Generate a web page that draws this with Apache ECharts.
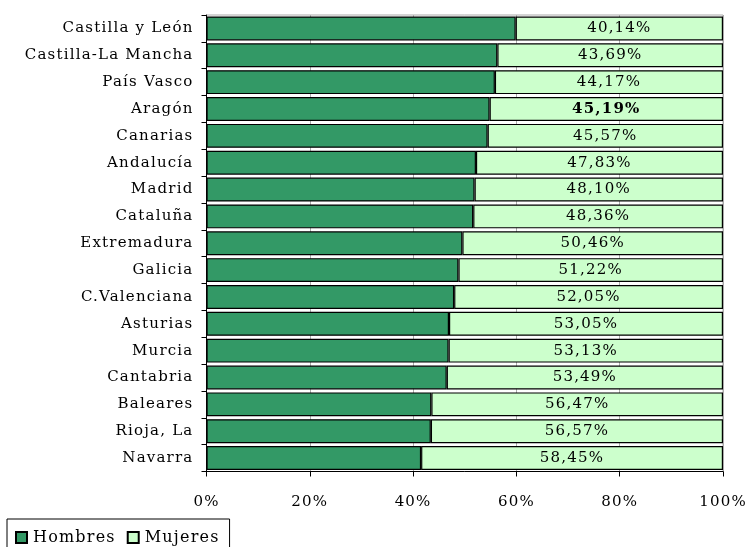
<!DOCTYPE html>
<html>
<head>
<meta charset="utf-8">
<script src="https://cdn.jsdelivr.net/npm/echarts@6/dist/echarts.min.js"></script>
<style>
html,body{margin:0;padding:0;background:#fff;}
#chart{width:750px;height:547px;}
</style>
</head>
<body>
<div id="chart"></div>
<script>
var categories = ["Castilla y León","Castilla-La Mancha","País Vasco","Aragón","Canarias","Andalucía","Madrid","Cataluña","Extremadura","Galicia","C.Valenciana","Asturias","Murcia","Cantabria","Baleares","Rioja, La","Navarra"];
var hombres = [59.86,56.31,55.83,54.81,54.43,52.17,51.90,51.64,49.54,48.78,47.95,46.95,46.87,46.51,43.53,43.43,41.55];
var mujeres = [40.14,43.69,44.17,45.19,45.57,47.83,48.10,48.36,50.46,51.22,52.05,53.05,53.13,53.49,56.47,56.57,58.45];
var boldCategory = "Aragón";

// slight letter spacing like the original's typeface
(function(){
  var P = CanvasRenderingContext2D.prototype;
  var ft = P.fillText, mt = P.measureText;
  P.fillText = function(){ try{ this.letterSpacing = '1.2px'; }catch(e){} return ft.apply(this, arguments); };
  P.measureText = function(){ try{ this.letterSpacing = '1.2px'; }catch(e){} return mt.apply(this, arguments); };
})();

var FONT = "'DejaVu Serif', serif";
var chart = echarts.init(document.getElementById('chart'));
var mujeresData = mujeres.map(function(v,i){
  var item = {value:v};
  if (categories[i] === boldCategory) item.label = {fontWeight:'bold'};
  return item;
});
chart.setOption({
  animation:false,
  textStyle:{fontFamily:FONT},
  grid:{left:206.5,right:27,top:15,bottom:75.5,show:true,borderColor:'#aaa',borderWidth:1},
  legend:{
    data:['Hombres','Mujeres'],
    left:7, top:519,
    itemWidth:11, itemHeight:11, itemGap:11,
    padding:[10,10,8,8],
    borderColor:'#000', borderWidth:1, borderRadius:0,
    textStyle:{fontFamily:FONT,fontSize:16,color:'#000',padding:[0,0,0,1]},
    icon:'rect'
  },
  xAxis:{
    type:'value', min:0, max:100, interval:20,
    axisLine:{show:true,lineStyle:{color:'#000',width:1}},
    axisTick:{show:true,length:5,lineStyle:{color:'#000'}},
    axisLabel:{formatter:'{value}%',fontFamily:FONT,fontSize:15,color:'#000',margin:23},
    splitLine:{show:true,lineStyle:{color:'#aaa',width:1}}
  },
  yAxis:{
    type:'category', data:categories, inverse:true,
    axisLine:{show:true,lineStyle:{color:'#000',width:1}},
    axisTick:{show:true,length:5,lineStyle:{color:'#000'}},
    axisLabel:{fontFamily:FONT,fontSize:15,color:'#000',margin:13}
  },
  series:[
    {name:'Hombres',type:'bar',stack:'t',data:hombres,barCategoryGap:'11%',
     itemStyle:{color:'#339966',borderColor:'#000',borderWidth:1.2}},
    {name:'Mujeres',type:'bar',stack:'t',data:mujeresData,barCategoryGap:'11%',
     itemStyle:{color:'#CCFFCC',borderColor:'#000',borderWidth:1.2},
     label:{show:true,position:'inside',fontFamily:FONT,fontSize:15,color:'#000',
       formatter:function(p){return p.value.toFixed(2).replace('.',',')+'%';}}}
  ]
});
</script>
</body>
</html>
